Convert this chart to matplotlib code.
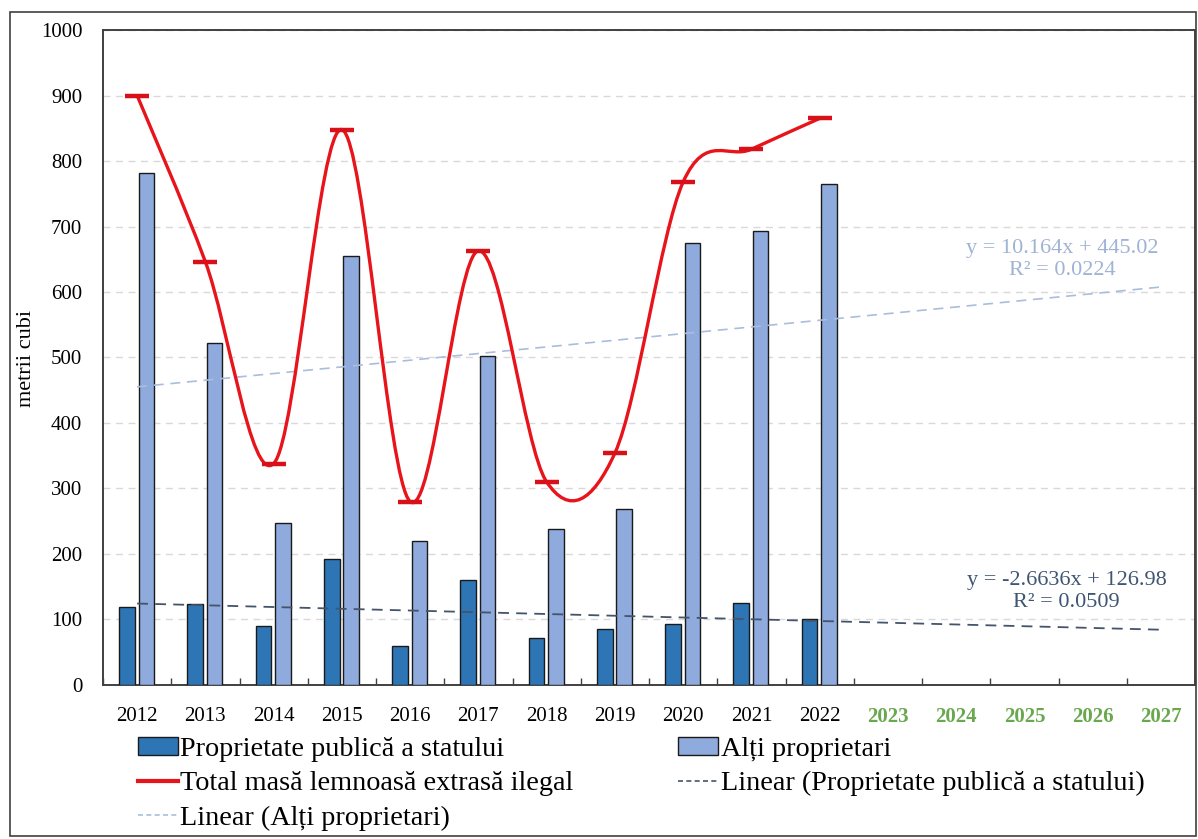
import numpy as np
import matplotlib
matplotlib.use("Agg")
import matplotlib.pyplot as plt
from matplotlib.path import Path
from matplotlib.patches import PathPatch, Patch, Rectangle
from matplotlib.lines import Line2D

plt.rcParams['font.family'] = ['Liberation Serif', 'DejaVu Serif']

years = ['2012', '2013', '2014', '2015', '2016', '2017', '2018', '2019', '2020', '2021', '2022',
         '2023', '2024', '2025', '2026', '2027']
stat = [119, 124, 90, 193, 60, 160, 72, 86, 93, 125, 100]
altii = [781, 522, 248, 655, 220, 503, 238, 268, 675, 693, 765]
total = [900, 646, 338, 848, 280, 663, 310, 354, 768, 818, 865]

# trend lines as reported by excel
trend_stat = (-2.6636, 126.98, 0.0509)
trend_altii = (10.164, 445.02, 0.0224)

c_dark = '#2E75B6'
c_light = '#8FAADC'
c_red = '#E8141B'
c_trend_dark = '#44546A'
c_trend_light = '#A9BDDD'
c_green = '#6AA84F'


def smooth_path(xs, ys):
    # excel style smoothed line: bezier segments, catmull-rom control points
    n = len(xs)
    verts = [(xs[0], ys[0])]
    codes = [Path.MOVETO]
    for i in range(n - 1):
        x0, y0 = (xs[i - 1], ys[i - 1]) if i > 0 else (xs[i], ys[i])
        x1, y1 = xs[i], ys[i]
        x2, y2 = xs[i + 1], ys[i + 1]
        x3, y3 = (xs[i + 2], ys[i + 2]) if i + 2 < n else (xs[i + 1], ys[i + 1])
        verts += [(x1 + (x2 - x0) / 6, y1 + (y2 - y0) / 6),
                  (x2 - (x3 - x1) / 6, y2 - (y3 - y1) / 6),
                  (x2, y2)]
        codes += [Path.CURVE4] * 3
    return Path(verts, codes)


fig = plt.figure(figsize=(11.98, 8.39), dpi=100)
ax = fig.add_axes([0.086, 0.1836, 0.9115, 0.7806])

x = np.arange(len(stat))
xt = np.arange(len(years))

ax.bar(x - 0.15, stat, width=0.23, color=c_dark, edgecolor='#1a1a1a', linewidth=1.0, zorder=3)
ax.bar(x + 0.135, altii, width=0.23, color=c_light, edgecolor='#1a1a1a', linewidth=1.0, zorder=3)

ax.add_patch(PathPatch(smooth_path(x, total), facecolor='none', edgecolor=c_red,
                       linewidth=2.4, zorder=5, capstyle='round'))
ax.plot(x, total, linestyle='none', marker='_', markersize=17, markeredgewidth=3.2,
        color='#D8101A', zorder=6)

xx = xt + 1
ax.plot(xt, trend_stat[0] * xx + trend_stat[1], color=c_trend_dark, lw=1.3,
        dashes=(6, 4), zorder=4)
ax.plot(xt, trend_altii[0] * xx + trend_altii[1], color=c_trend_light, lw=1.2,
        dashes=(6, 4), zorder=4)

ax.text(13.62, 143, 'y = -2.6636x + 126.98\nR² = 0.0509', ha='center', va='center',
        fontsize=16, color='#3E5573', linespacing=1.25)
ax.text(13.56, 650, 'y = 10.164x + 445.02\nR² = 0.0224', ha='center', va='center',
        fontsize=16, color='#9FB3D3', linespacing=1.25)

ax.set_xlim(-0.5, 15.5)
ax.set_ylim(0, 1000)
ax.set_yticks(np.arange(0, 1001, 100))
ax.yaxis.grid(True, color='#D9D9D9', linestyle=(0, (5, 4)), linewidth=1.0)
ax.set_axisbelow(True)

ax.set_xticks(xt)
ax.set_xticklabels(years)
ax.set_xticks(np.arange(-0.5, 15.6, 1), minor=True)
ax.tick_params(axis='x', which='major', length=0, pad=16, labelsize=15)
ax.tick_params(axis='x', which='minor', direction='in', length=5, width=1.0, color='#404040')
ax.tick_params(axis='y', length=0, pad=15, labelsize=15)
for lab in ax.get_xticklabels()[11:]:
    lab.set_color(c_green)
    lab.set_fontweight('bold')

for s in ax.spines.values():
    s.set_color('#404040')
    s.set_linewidth(1.4)

fig.text(27 / 1198, 1 - 358 / 839, 'metrii cubi', rotation=90, ha='center', va='center',
         fontsize=16)

handles = [Patch(facecolor=c_dark, edgecolor='#1a1a1a', linewidth=1.0),
           Line2D([], [], color=c_red, lw=3),
           Line2D([], [], color=c_trend_light, lw=1.2, dashes=(3, 2)),
           Patch(facecolor=c_light, edgecolor='#1a1a1a', linewidth=1.0),
           Line2D([], [], color=c_trend_dark, lw=1.2, dashes=(3, 2))]
labels = ['Proprietate publică a statului', 'Total masă lemnoasă extrasă ilegal',
          'Linear (Alți proprietari)', 'Alți proprietari',
          'Linear (Proprietate publică a statului)']
fig.legend(handles, labels, loc='upper left', bbox_to_anchor=(0.1152, 1 - 737 / 839), ncol=2,
           frameon=False, fontsize=20.3, handlelength=1.42, handleheight=0.6,
           handletextpad=0.08, columnspacing=3.72, labelspacing=0.33, borderpad=0,
           borderaxespad=0)

fig.add_artist(Rectangle((10 / 1198, 3 / 839), 1186 / 1198, 824 / 839, transform=fig.transFigure,
                         fill=False, edgecolor='#404040', linewidth=1.2))

fig.savefig('out.png', dpi=100)
